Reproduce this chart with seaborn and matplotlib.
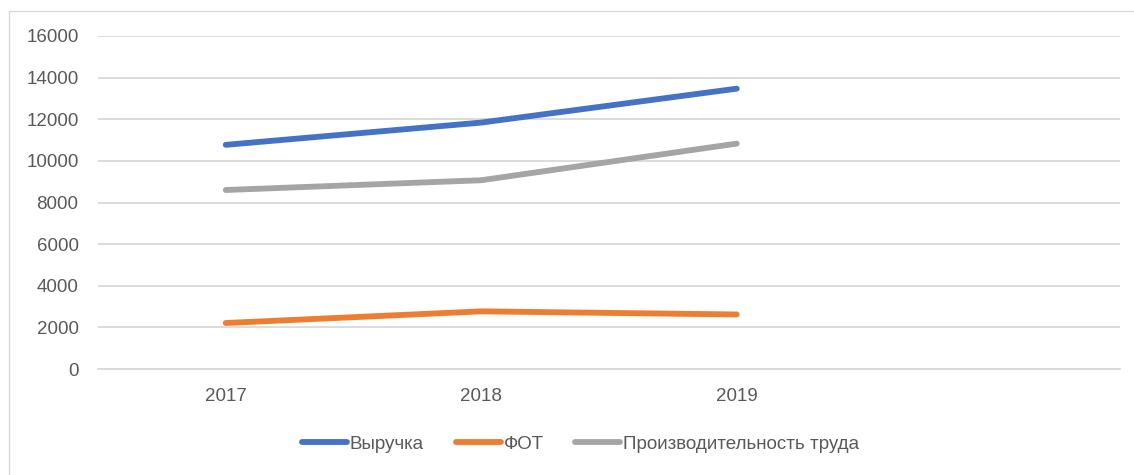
import pandas as pd
import matplotlib.pyplot as plt
import seaborn as sns
from matplotlib.lines import Line2D

# Data
years = ['2017', '2018', '2019']
revenue = [10770, 11840, 13470]          # Выручка
payroll = [2210, 2770, 2620]             # ФОТ
productivity = [8600, 9070, 10830]       # Производительность труда
series_names = ['Выручка', 'ФОТ', 'Производительность труда']
colors = ['#4472C4', '#ED7D31', '#A5A5A5']

# Long-format table for seaborn
df = pd.DataFrame({
    'pos': list(range(len(years))) * 3,
    'value': revenue + payroll + productivity,
    'series': [s for s in series_names for _ in years],
})

sns.set_theme(style="white")
plt.rcParams['font.family'] = ['Liberation Sans', 'DejaVu Sans']

fig = plt.figure(figsize=(11.34, 4.75), dpi=100)
ax = fig.add_axes([98 / 1134, 1 - 369 / 475, (1120 - 98) / 1134, (369 - 36) / 475])

sns.lineplot(
    data=df, x='pos', y='value', hue='series',
    hue_order=series_names, palette=colors,
    linewidth=4.2, ax=ax, legend=False,
)
for line in ax.lines:
    line.set_solid_capstyle('round')
    line.set_solid_joinstyle('round')

ax.set_xlim(-0.5, 3.5)
ax.set_ylim(0, 16000)
ax.set_yticks(range(0, 16001, 2000))
ax.set_xticks(range(len(years)))
ax.set_xticklabels(years)
ax.set_xlabel('')
ax.set_ylabel('')
ax.grid(axis='y', color='#D9D9D9', linewidth=1.3)
ax.set_axisbelow(True)
for side in ['top', 'right', 'left']:
    ax.spines[side].set_visible(False)
ax.spines['bottom'].set_color('#D9D9D9')
ax.spines['bottom'].set_linewidth(1.3)
ax.tick_params(axis='y', length=0, pad=14, labelsize=13.5, labelcolor='#595959')
ax.tick_params(axis='x', length=0, pad=14, labelsize=13.5, labelcolor='#595959')

# Legend at the bottom
handles = [Line2D([0], [0], color=c, linewidth=4.2, solid_capstyle='round') for c in colors]
fig.legend(handles, series_names, loc='center', bbox_to_anchor=(0.512, 1 - 444 / 475),
           ncol=3, frameon=False, fontsize=13.5, labelcolor='#595959',
           handlelength=2.4, handletextpad=0.15, columnspacing=1.7)

# Chart area border (left and top edges visible)
fig.add_artist(Line2D([9 / 1134, 9 / 1134], [0, 1 - 11 / 475], transform=fig.transFigure,
                      color='#D9D9D9', linewidth=1))
fig.add_artist(Line2D([9 / 1134, 1], [1 - 11 / 475, 1 - 11 / 475], transform=fig.transFigure,
                      color='#D9D9D9', linewidth=1))

plt.savefig('out.png', dpi=100)
